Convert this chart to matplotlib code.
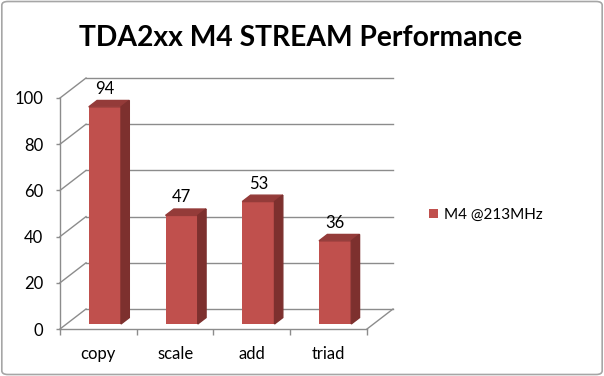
"""TDA2xx M4 STREAM performance, Excel-style 3D column chart."""
import numpy as np
import matplotlib
matplotlib.use("Agg")
import matplotlib.pyplot as plt
from matplotlib.patches import Polygon, FancyBboxPatch

plt.rcParams["font.family"] = ["Lato", "DejaVu Sans"]

categories = ["copy", "scale", "add", "triad"]
values = [94, 47, 53, 36]
series_name = "M4 @213MHz"
y_ticks = [0, 20, 40, 60, 80, 100]

FRONT, SIDE, TOP = "#C0504D", "#7D302E", "#943B39"
GRID = "#8C8C8C"
DX, DY = 0.339, 8.66          # depth of the 3D box, in data units
F0, F1 = 0.25, 0.57           # bar depth range (fraction of box depth)
W = 0.42                      # bar width

fig = plt.figure(figsize=(6.04, 3.76), dpi=100)
fig.patches.append(FancyBboxPatch((0.003, 0.004), 0.994, 0.992, boxstyle="round,pad=0,rounding_size=0.01",
                                  transform=fig.transFigure, fill=False, ec="#A6A6A6", lw=1.2))
ax = fig.add_axes([60 / 604, 47 / 376, 307 / 604, 231 / 376])
ax.set_xlim(-0.5, len(categories) - 0.5)
ax.set_ylim(0, 100)
x0, x1 = -0.5, len(categories) - 0.5

# walls and floor
for v in y_ticks:
    ax.plot([x0, x0 + DX], [v, v + DY], color=GRID, lw=1.0, clip_on=False, zorder=1)
    ax.plot([x0 + DX, x1 + DX], [v + DY, v + DY], color=GRID, lw=1.0, clip_on=False, zorder=1)
ax.plot([x1, x1 + DX], [0, DY], color=GRID, lw=1.0, clip_on=False, zorder=1)

# bars
x = np.arange(len(categories))
xf = x + F0 * DX
base = F0 * DY
bars = ax.bar(xf, values, W, bottom=base, color=FRONT, zorder=3, clip_on=False, label=series_name)
dd = F1 - F0
for xi, v in zip(xf, values):
    xl, xr, top = xi - W / 2, xi + W / 2, v + base
    ax.add_patch(Polygon([(xl, top), (xr, top), (xr + dd * DX, top + dd * DY), (xl + dd * DX, top + dd * DY)],
                         closed=True, color=TOP, zorder=3, clip_on=False))
    ax.add_patch(Polygon([(xr, base), (xr, top), (xr + dd * DX, top + dd * DY), (xr + dd * DX, base + dd * DY)],
                         closed=True, color=SIDE, zorder=3, clip_on=False))
    ax.annotate(str(v), (xi, top), xytext=(0, 13), textcoords="offset points",
                ha="center", va="center", fontsize=12, zorder=4)

# front axes
for s in ["top", "right"]:
    ax.spines[s].set_visible(False)
for s in ["left", "bottom"]:
    ax.spines[s].set_color(GRID)
    ax.spines[s].set_linewidth(1.0)
ax.set_yticks(y_ticks)
ax.tick_params(axis="y", length=3, width=1.0, color=GRID, pad=9, labelsize=12)
ax.set_xticks(np.arange(len(categories) + 1) - 0.5)
ax.set_xticklabels([])
ax.set_xticks(x, minor=True)
ax.set_xticklabels(categories, minor=True)
ax.tick_params(axis="x", which="major", length=4, width=1.0, color=GRID)
ax.tick_params(axis="x", which="minor", length=0, pad=12, labelsize=12)
ax.patch.set_visible(False)

fig.text(301 / 604, 1 - 38 / 376, "TDA2xx M4 STREAM Performance", ha="center", va="center",
         fontsize=20.3, fontweight="bold")
fig.legend(handles=[bars], loc="center left", bbox_to_anchor=(429 / 604, 1 - 215 / 376), frameon=False,
           borderpad=0, borderaxespad=0, handlelength=0.6, handleheight=0.6, handletextpad=0.4, fontsize=11)

fig.savefig("out.png", dpi=100)
